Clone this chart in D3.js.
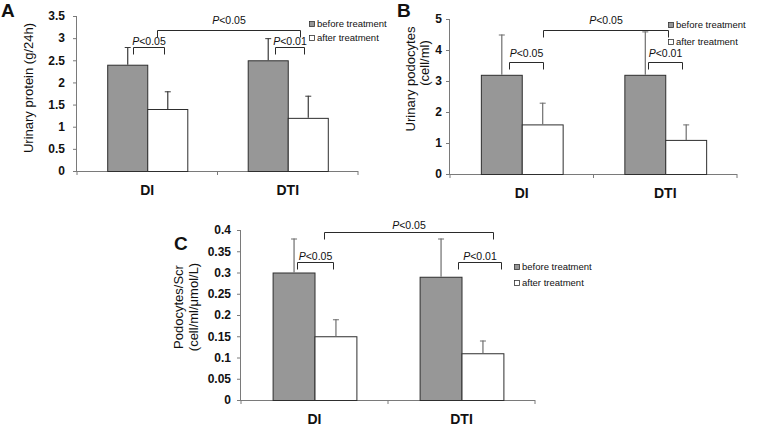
<!DOCTYPE html>
<html>
<head>
<meta charset="utf-8">
<script src="https://cdn.jsdelivr.net/npm/d3@7/dist/d3.min.js"></script>
<style>
  html, body { margin: 0; padding: 0; background: #fff; }
  svg { display: block; font-family: Arial, "Liberation Sans", sans-serif; }
</style>
</head>
<body>
<svg id="chart" width="757" height="426"></svg>
<script>
// ---------------- DATA ----------------
const categories = ["DI", "DTI"];
const seriesNames = ["before treatment", "after treatment"];

// Panel A: Urinary protein (g/24h)
const proteinBefore = [2.4, 2.5];
const proteinBeforeSD = [0.4, 0.5];
const proteinAfter = [1.4, 1.2];
const proteinAfterSD = [0.4, 0.5];
const proteinTicks = [0, 0.5, 1, 1.5, 2, 2.5, 3, 3.5];

// Panel B: Urinary podocytes (cell/ml)
const podoBefore = [3.2, 3.2];
const podoBeforeSD = [1.3, 1.4];
const podoAfter = [1.6, 1.1];
const podoAfterSD = [0.7, 0.5];
const podoTicks = [0, 1, 2, 3, 4, 5];

// Panel C: Podocytes/Scr (cell/ml/μmol/L)
const ratioBefore = [0.30, 0.29];
const ratioBeforeSD = [0.08, 0.09];
const ratioAfter = [0.15, 0.11];
const ratioAfterSD = [0.04, 0.03];
const ratioTicks = [0, 0.05, 0.1, 0.15, 0.2, 0.25, 0.3, 0.35, 0.4];

// significance labels
const pWithin = ["P<0.05", "P<0.01"];
const pBetween = "P<0.05";

// ---------------- LAYOUT ----------------
const panels = [
  {
    letter: "A", letterPos: [1, 17],
    before: proteinBefore, beforeSD: proteinBeforeSD, after: proteinAfter, afterSD: proteinAfterSD,
    ticks: proteinTicks, x0: 77, x1: 358, yTop: 16, yBot: 171, tickGap: 12,
    ylabel: [{ t: "Urinary protein (g/24h)", x: 28, y: 88 }],
    errColor: "#3a3a3a",
    legend: { x: 312, y: [24, 38] },
    small: [ { u: [0.399, 0.619], y: 47, gap: 2 }, { u: [1.409, 1.616], y: 47, gap: 2 } ],
    big: { u: [0.569, 1.587], y: 30, gap: 6 }
  },
  {
    letter: "B", letterPos: [397, 17],
    before: podoBefore, beforeSD: podoBeforeSD, after: podoAfter, afterSD: podoAfterSD,
    ticks: podoTicks, x0: 450, x1: 737, yTop: 19, yBot: 174, tickGap: 8,
    ylabel: [{ t: "Urinary podocytes", x: 410, y: 79 }, { t: "(cell/ml)", x: 424, y: 63 }],
    errColor: "#6e6e6e",
    legend: { x: 671, y: [25, 42] },
    small: [ { u: [0.411, 0.648], y: 62, gap: 5 }, { u: [1.380, 1.617], y: 62, gap: 5 } ],
    big: { u: [0.648, 1.519], y: 30, gap: 6 }
  },
  {
    letter: "C", letterPos: [174, 250],
    before: ratioBefore, beforeSD: ratioBeforeSD, after: ratioAfter, afterSD: ratioAfterSD,
    ticks: ratioTicks, x0: 241, x1: 535, yTop: 230, yBot: 400, tickGap: 10,
    ylabel: [{ t: "Podocytes/Scr", x: 178, y: 307 }, { t: "(cell/ml/\u03bcmol/L)", x: 193, y: 307 }],
    errColor: "#6e6e6e",
    legend: { x: 517, y: [267, 283] },
    small: [ { u: [0.381, 0.626], y: 262, gap: 2 }, { u: [1.476, 1.769], y: 262, gap: 2 } ],
    big: { u: [0.565, 1.714], y: 232, gap: 3 }
  }
];

const svg = d3.select("#chart");
const axisColor = "#7a7a7a";
const barStroke = "#2e2e2e";
const beforeFill = "#979797";
const bracketColor = "#2a2a2a";

panels.forEach(p => {
  const g = svg.append("g");
  const yMax = p.ticks[p.ticks.length - 1];
  const y = d3.scaleLinear().domain([0, yMax]).range([p.yBot, p.yTop]);
  const x = d3.scaleBand().domain(categories).range([p.x0, p.x1]).paddingInner(0).paddingOuter(0);
  const bw = x.bandwidth();
  const barW = bw * 0.285;
  const xs = d3.scaleBand().domain(seriesNames).range([bw / 2 - barW, bw / 2 + barW]);
  const u = d3.scaleLinear().domain([0, 2]).range([p.x0, p.x1]); // bracket position in band units

  // Y axis
  const yAxis = d3.axisLeft(y).tickValues(p.ticks).tickSize(4).tickPadding(p.tickGap - 4)
    .tickFormat(d => d3.format("~g")(d));
  const ya = g.append("g").attr("transform", `translate(${p.x0},0)`).call(yAxis);
  ya.select(".domain").attr("stroke", axisColor).attr("d", `M-0.5,${p.yBot}V${p.yTop}`);
  ya.selectAll(".tick line").attr("stroke", axisColor);
  ya.selectAll(".tick text").attr("fill", "#111").style("font-size", "12px").style("font-weight", "bold")
    .style("font-family", "Arial, 'Liberation Sans', sans-serif");

  // X axis
  const xa = g.append("g").attr("transform", `translate(0,${p.yBot})`);
  xa.append("line").attr("x1", p.x0).attr("x2", p.x1).attr("y1", 0.5).attr("y2", 0.5).attr("stroke", axisColor);
  const boundaries = [p.x0, p.x0 + bw, p.x1];
  xa.selectAll("line.tk").data(boundaries).enter().append("line").attr("class", "tk")
    .attr("x1", d => d).attr("x2", d => d).attr("y1", 0).attr("y2", 4).attr("stroke", axisColor);
  xa.selectAll("text").data(categories).enter().append("text")
    .attr("x", d => x(d) + bw / 2).attr("y", 24)
    .attr("text-anchor", "middle").attr("fill", "#111")
    .style("font-size", "14px").style("font-weight", "bold").text(d => d);

  // Bars
  const rows = [];
  categories.forEach((c, i) => {
    rows.push({ cat: c, s: seriesNames[0], v: p.before[i], sd: p.beforeSD[i], fill: beforeFill });
    rows.push({ cat: c, s: seriesNames[1], v: p.after[i], sd: p.afterSD[i], fill: "#ffffff" });
  });
  g.selectAll("rect.bar").data(rows).enter().append("rect").attr("class", "bar")
    .attr("x", d => x(d.cat) + xs(d.s) + 0.5)
    .attr("y", d => y(d.v) + 0.5)
    .attr("width", xs.bandwidth())
    .attr("height", d => y(0) - y(d.v))
    .attr("fill", d => d.fill).attr("stroke", barStroke).attr("stroke-width", 1);

  // Error bars (upper only)
  const eb = g.selectAll("g.err").data(rows).enter().append("g").attr("class", "err");
  eb.append("line")
    .attr("x1", d => x(d.cat) + xs(d.s) + xs.bandwidth() / 2 + 0.5)
    .attr("x2", d => x(d.cat) + xs(d.s) + xs.bandwidth() / 2 + 0.5)
    .attr("y1", d => y(d.v)).attr("y2", d => y(d.v + d.sd))
    .attr("stroke", p.errColor).attr("stroke-width", 1.2);
  eb.append("line")
    .attr("x1", d => x(d.cat) + xs(d.s) + xs.bandwidth() / 2 - 2.5)
    .attr("x2", d => x(d.cat) + xs(d.s) + xs.bandwidth() / 2 + 3.5)
    .attr("y1", d => y(d.v + d.sd) + 0.5).attr("y2", d => y(d.v + d.sd) + 0.5)
    .attr("stroke", p.errColor).attr("stroke-width", 1);

  // Brackets
  function bracket(b, label, tickLen) {
    const xa1 = Math.round(u(b.u[0])) + 0.5, xa2 = Math.round(u(b.u[1])) + 0.5, yy = b.y + 0.5;
    g.append("path")
      .attr("d", `M${xa1},${yy + tickLen}V${yy}H${xa2}V${yy + tickLen}`)
      .attr("fill", "none").attr("stroke", bracketColor).attr("stroke-width", 1);
    const t = g.append("text").attr("x", (xa1 + xa2) / 2).attr("y", b.y - b.gap)
      .attr("text-anchor", "middle").attr("fill", "#111").style("font-size", "10.5px");
    t.append("tspan").style("font-style", "italic").text(label.slice(0, 1));
    t.append("tspan").text(label.slice(1));
  }
  p.small.forEach((b, i) => bracket(b, pWithin[i], 7));
  bracket(p.big, pBetween, 7);

  // Y label
  p.ylabel.forEach(l => {
    g.append("text").attr("transform", `translate(${l.x},${l.y}) rotate(-90)`)
      .attr("text-anchor", "middle").attr("dy", "0.35em").attr("fill", "#111")
      .style("font-size", "13px").text(l.t);
  });

  // Panel letter
  g.append("text").attr("x", p.letterPos[0]).attr("y", p.letterPos[1])
    .attr("fill", "#111").style("font-size", "19px").style("font-weight", "bold").text(p.letter);

  // Legend
  const lg = g.selectAll("g.lg").data(seriesNames).enter().append("g").attr("class", "lg")
    .attr("transform", (d, i) => `translate(${p.legend.x},${p.legend.y[i]})`);
  lg.append("rect").attr("x", -2.5).attr("y", -2.5).attr("width", 5).attr("height", 5)
    .attr("fill", (d, i) => i === 0 ? beforeFill : "#fff").attr("stroke", "#333").attr("stroke-width", 0.8);
  lg.append("text").attr("x", 5).attr("y", 0).attr("dy", "0.35em").attr("fill", "#111")
    .style("font-size", "9.5px").text(d => d);
});
</script>
</body>
</html>
